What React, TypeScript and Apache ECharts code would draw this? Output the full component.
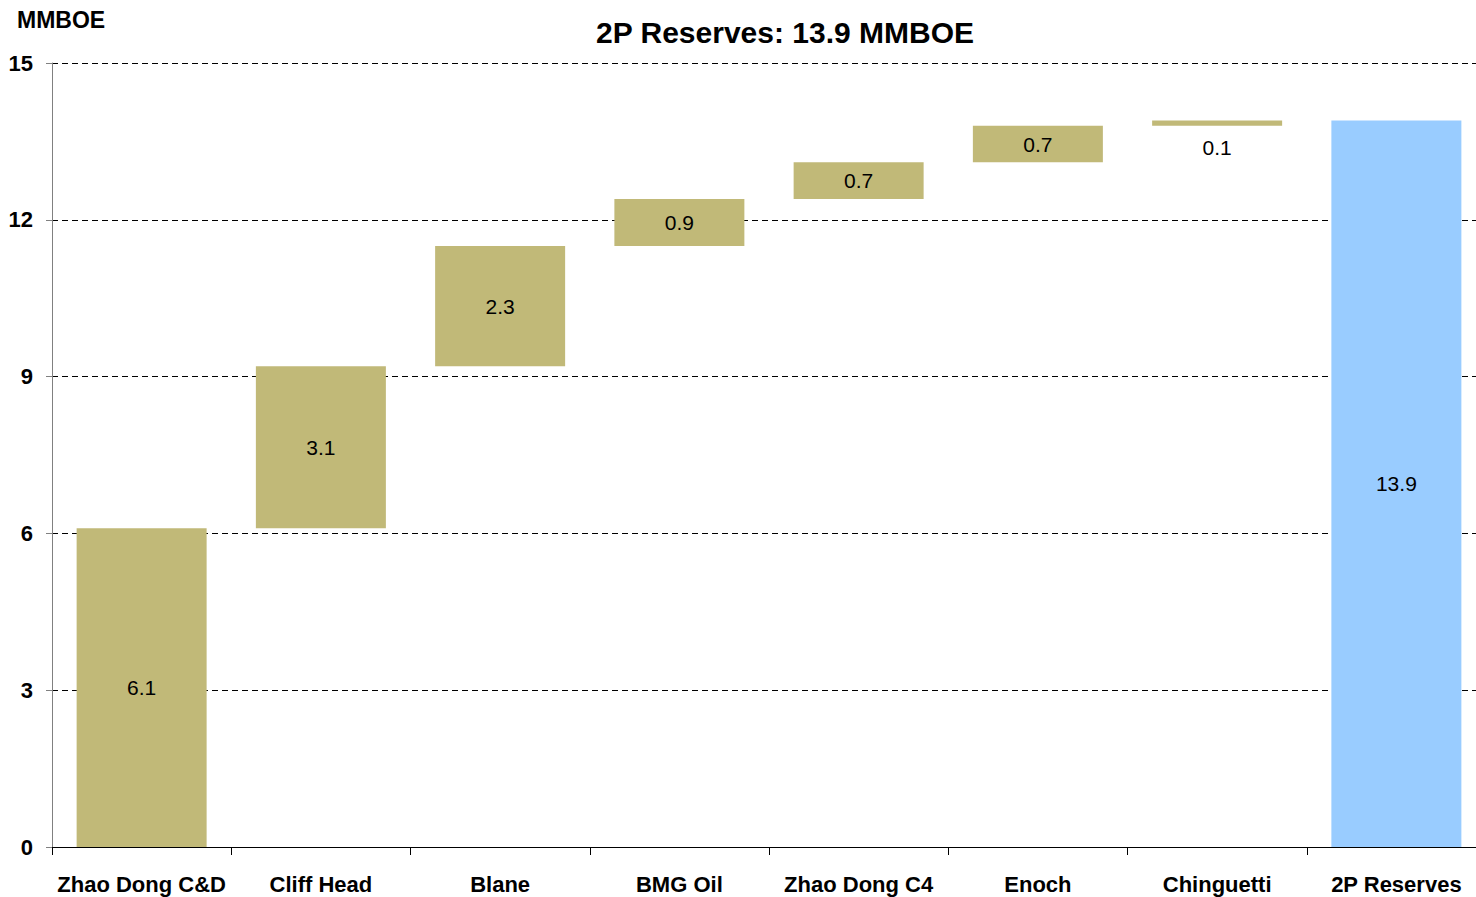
import React, { useEffect, useRef } from "react";
import * as echarts from "echarts";

const categories = ["Zhao Dong C&D", "Cliff Head", "Blane", "BMG Oil", "Zhao Dong C4", "Enoch", "Chinguetti", "2P Reserves"];
const increments = [6.1, 3.1, 2.3, 0.9, 0.7, 0.7, 0.1];
const total = 13.9;
const yTicks = [0, 3, 6, 9, 12, 15];

export default function App() {
  const ref = useRef<HTMLDivElement>(null);
  useEffect(() => {
    const chart = echarts.init(ref.current!, null, { renderer: "svg" });
    const bases: number[] = [];
    let acc = 0;
    increments.forEach((v) => {
      bases.push(+acc.toFixed(2));
      acc += v;
    });
    bases.push(0);
    const values = [...increments, total];
    const olive = "#C1B978";
    const blue = "#99CCFF";
    const font = "Liberation Sans, Arial";
    chart.setOption({
      animation: false,
      title: {
        text: "2P Reserves: 13.9 MMBOE",
        left: 780,
        top: 12,
        textAlign: "center",
        textStyle: { fontFamily: font, fontWeight: "bold", fontSize: 30, color: "#000" },
      },
      graphic: [
        {
          type: "text",
          left: 17,
          top: 8,
          style: { text: "MMBOE", font: "bold 23px 'Liberation Sans', Arial", fill: "#000" },
        },
      ],
      grid: { left: 52, right: 0, top: 63, bottom: 50, containLabel: false },
      xAxis: {
        type: "category",
        data: categories,
        axisLine: { lineStyle: { color: "#000", width: 1 } },
        axisTick: { show: true, length: 8, lineStyle: { color: "#000" } },
        axisLabel: {
          margin: 26,
          fontFamily: font,
          fontWeight: "bold",
          fontSize: 22,
          color: "#000",
          interval: 0,
        },
      },
      yAxis: {
        type: "value",
        min: yTicks[0],
        max: yTicks[yTicks.length - 1],
        interval: 3,
        axisLine: { show: true, lineStyle: { color: "#808080" } },
        axisTick: { show: true, length: 6, lineStyle: { color: "#808080" } },
        axisLabel: {
          margin: 19,
          fontFamily: font,
          fontWeight: "bold",
          fontSize: 22,
          color: "#000",
        },
        splitLine: { show: true, lineStyle: { color: "#000", type: [6, 4], width: 1 } },
      },
      series: [
        {
          type: "bar",
          stack: "w",
          data: bases,
          itemStyle: { color: "transparent" },
          barWidth: 130,
          silent: true,
        },
        {
          type: "bar",
          stack: "w",
          barWidth: 130,
          data: values.map((v, i) => ({
            value: v,
            itemStyle: { color: i === values.length - 1 ? blue : olive },
            label: {
              show: true,
              position: i === 6 ? "bottom" : "inside",
              distance: 11,
              formatter: v.toFixed(1),
              fontFamily: font,
              fontSize: 21,
              color: "#000",
            },
          })),
        },
      ],
    });
    return () => chart.dispose();
  }, []);
  return (
    <div style={{ position: "fixed", left: 0, top: 0, width: 1476, height: 897, overflow: "hidden", background: "#fff" }}>
      <div ref={ref} style={{ width: 1486, height: 897 }} />
    </div>
  );
}
